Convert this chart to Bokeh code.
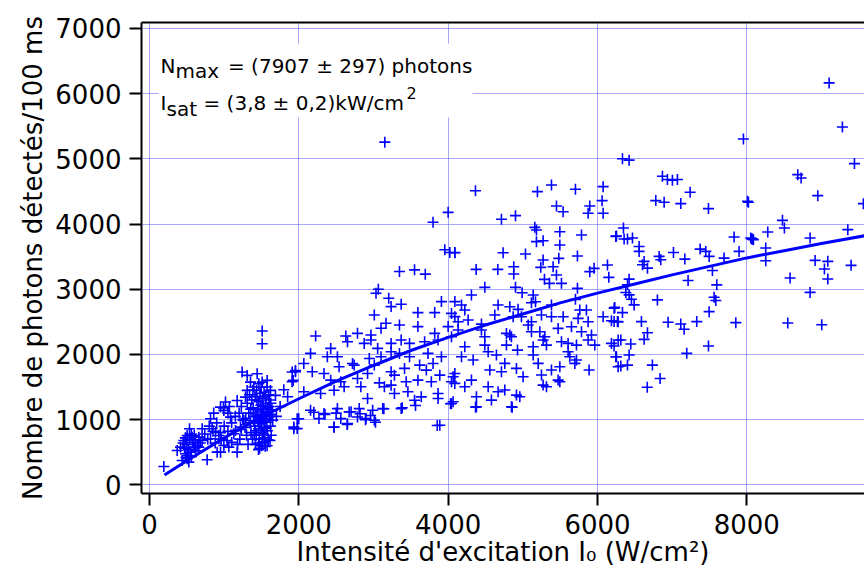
from bokeh.plotting import figure
from bokeh.models import Range1d, FixedTicker, LinearAxis, Label, BoxAnnotation
from bokeh.embed import file_html
from bokeh.resources import INLINE

FONT = "DejaVu Sans"
BLUE = "#0000ff"

# ---------------- data ----------------
x_ticks = [0, 2000, 4000, 6000, 8000]
y_ticks = [0, 1000, 2000, 3000, 4000, 5000, 6000, 7000]

x_title = "Intensité d'excitation I\u2080 (W/cm\u00b2)"
y_title = "Nombre de photons détectés/100 ms"
fit_line1 = "= (7907 ± 297) photons"
fit_line2 = "= (3,8 ± 0,2)kW/cm"

# saturation fit curve
fit_I = [200, 500, 1000, 1500, 2000, 2500, 3000, 3500, 4000, 4500, 5000,
         5500, 6000, 6500, 7000, 7500, 8000, 8500, 9000, 9580]
fit_N = [150, 370, 720, 1040, 1320, 1590, 1830, 2060, 2260, 2450, 2620,
         2790, 2940, 3080, 3220, 3350, 3480, 3590, 3700, 3820]

# measured points (intensity W/cm2, photons / 100 ms), grouped by intensity
pts_0_1000 = [
    (192, 281), (536, 859), (460, 680), (504, 757), (571, 731), (616, 690), (661, 731),
    (705, 680), (594, 578), (549, 501), (482, 476), (504, 399), (437, 373), (527, 348),
    (371, 527), (415, 578), (661, 578), (705, 859), (817, 1013), (839, 859), (884, 808),
    (929, 757), (817, 706), (906, 501), (951, 501), (772, 384), (450, 640), (470, 560),
    (480, 720), (500, 620), (520, 540), (540, 690), (560, 430), (580, 650), (600, 760),
    (620, 520), (640, 600), (560, 780), (510, 450), (490, 420), (600, 570), (680, 640),
    (800, 900), (860, 1100), (900, 950), (950, 800), (780, 700), (740, 780), (850, 820),
    (960, 700), (880, 640), (996, 604), (951, 1192), (996, 1141), (990, 1180),
]
pts_1000_2000 = [
    (1040, 680), (1062, 578), (1129, 783), (1174, 501), (1174, 1294), (1018, 1269),
    (1085, 1038), (1152, 834), (1219, 885), (1263, 987), (1286, 1345), (1308, 1448),
    (1241, 1729), (1308, 1678), (1442, 1703), (1353, 1575), (1397, 1499), (1464, 1550),
    (1509, 1575), (1576, 1601), (1620, 1448), (1687, 1371), (1799, 1458), (1911, 1729),
    (1955, 1754), (1924, 1601), (1509, 2358), (1509, 2164), (1933, 885), (1999, 1013),
    (1000, 900), (1050, 1100), (1100, 950), (1150, 1050), (1200, 1100), (1230, 850),
    (1210, 700), (1180, 620), (1100, 650), (1050, 820), (1070, 1200), (1230, 1200),
    (1250, 1000), (1750, 1200), (1850, 1350), (1700, 1050),
    (1955, 1733), (1910, 1580), (1933, 859), (1978, 1012), (1978, 862),
]
pts_cluster_1500 = [
    (1310, 1250), (1330, 1100), (1350, 950), (1360, 800), (1380, 700), (1390, 1180),
    (1400, 1050), (1410, 900), (1420, 620), (1430, 760), (1440, 1300), (1450, 1150),
    (1455, 980), (1460, 860), (1470, 700), (1475, 560), (1480, 1400), (1490, 1220),
    (1500, 1080), (1505, 940), (1510, 800), (1515, 650), (1520, 1330), (1525, 1160),
    (1530, 1010), (1540, 880), (1545, 720), (1550, 590), (1560, 1250), (1565, 1100),
    (1570, 960), (1580, 830), (1590, 690), (1600, 1200), (1610, 1050), (1620, 900),
    (1630, 760), (1640, 1150), (1650, 990), (1290, 1020), (1280, 880), (1300, 760),
    (1320, 620), (1340, 1380), (1370, 1300), (1385, 1450), (1415, 1350), (1435, 1450),
    (1465, 1280), (1495, 1500), (1535, 1420), (1555, 1360), (1575, 1500), (1595, 1380),
    (1605, 1300), (1625, 1250), (1445, 1040), (1485, 1120), (1515, 1200), (1545, 1060),
    (1405, 760), (1465, 640), (1495, 860), (1525, 780), (1575, 600), (1615, 680),
    (1355, 1160), (1395, 980), (1425, 1070), (1535, 970), (1565, 870), (1585, 1180),
    (1630, 1080), (1460, 540), (1500, 600), (1540, 660), (1420, 830), (1480, 950),
    (1520, 1060), (1560, 1020),
]
pts_2000_4000 = [
    (4000, 4179), (3798, 4026), (3955, 3605), (4022, 3564), (4090, 3564), (3348, 3272),
    (3550, 3297), (3694, 3231), (3065, 3000), (3034, 2938), (3204, 2862), (3236, 2733),
    (3371, 2769), (3011, 2605), (3595, 2641), (3820, 2641), (3910, 2810), (4090, 2810),
    (2225, 2282), (2629, 2282), (2786, 2323), (2966, 2297), (3168, 2477), (3101, 2400),
    (3348, 2451), (3595, 2426), (3820, 2323), (4000, 2426), (4090, 2579), (2652, 2195),
    (2876, 2169), (2966, 2221), (3056, 2092), (3236, 2169), (3371, 2221), (3483, 2169),
    (3685, 2195), (3865, 2221), (2427, 2092), (2157, 2015), (2382, 1964), (2517, 1964),
    (2719, 1861), (2944, 1938), (3101, 1964), (3236, 2041), (3348, 2015), (3483, 1964),
    (3730, 2015), (3910, 1964), (2067, 1861), (2180, 1733), (2337, 1708), (2539, 1810),
    (2741, 1836), (3011, 1836), (3236, 1733), (3281, 1682), (3416, 1785), (3618, 1836),
    (3708, 1759), (3798, 1861), (3888, 1682), (4090, 1708), (2427, 1605), (2562, 1580),
    (2786, 1631), (2921, 1708), (3079, 1564), (3236, 1528), (3438, 1580), (3595, 1605),
    (3775, 1580), (4045, 1580), (2067, 1426), (2292, 1400), (2472, 1451), (2607, 1503),
    (2831, 1503), (2921, 1323), (3146, 1503), (3281, 1400), (3461, 1426), (3550, 1297),
    (3640, 1349), (3865, 1400), (3865, 1323), (4045, 1246), (2157, 1144), (2337, 1092),
    (2517, 1169), (2674, 1118), (2809, 1169), (2989, 1144), (3124, 1169), (3371, 1169),
    (2472, 887), (2652, 938), (3011, 990), (3888, 913), (2270, 1015), (2562, 1015),
    (2786, 1041), (2899, 1015), (3854, 909), (2469, 883), (2648, 925), (3027, 960),
    (2893, 997), (4032, 1242), (3385, 1181), (3563, 1216), (3139, 1166), (2201, 1113),
    (2350, 1080), (2500, 1100), (2700, 1120), (2820, 1090), (2960, 1063), (3152, 5255),
]
pts_4000_6300 = [
    (4366, 4511), (4714, 4072), (4902, 4128), (5196, 4496), (5384, 4598), (5705, 4532),
    (5451, 4276), (5540, 4189), (6076, 4573), (6062, 4358), (5897, 4276), (5875, 4164),
    (6076, 4164), (5161, 3949), (5183, 3908), (5496, 3882), (5786, 3831), (5183, 3729),
    (5272, 3744), (5496, 3678), (6255, 3816), (4089, 3560), (4736, 3560), (5036, 3540),
    (5272, 3448), (5482, 3473), (5732, 3509), (4375, 3304), (4665, 3304), (4879, 3345),
    (4879, 3233), (5241, 3335), (5406, 3345), (5451, 3217), (5290, 3151), (5357, 3090),
    (5518, 3090), (5897, 3269), (5955, 3320), (6134, 3371), (6152, 3182), (4491, 3028),
    (4902, 3028), (4991, 2946), (4312, 2911), (5139, 2911), (5170, 2808), (5732, 3013),
    (5705, 2844), (4179, 2757), (4223, 2680), (4669, 2757), (4826, 2731), (4937, 2691),
    (5116, 2793), (5384, 2757), (5763, 2680), (5852, 2680), (6232, 2721), (4045, 2629),
    (4134, 2501), (4268, 2527), (4446, 2465), (4625, 2604), (4871, 2578), (4982, 2578),
    (5116, 2501), (5250, 2604), (5384, 2578), (5541, 2578), (5741, 2552), (5875, 2501),
    (6076, 2578), (6187, 2517), (6277, 2501), (4446, 2374), (4826, 2297), (5072, 2450),
    (5228, 2348), (5473, 2399), (5652, 2425), (5786, 2348), (5920, 2297), (4134, 2374),
    (4045, 2271), (4491, 2271), (4781, 2322), (4848, 2271), (5295, 2271), (5116, 2348),
    (5607, 2169), (5719, 2143), (5875, 2220), (5964, 2143), (6187, 2169), (6277, 2220),
    (4223, 2118), (4491, 2143), (4781, 2143), (4929, 2066), (5139, 2118), (5272, 2220),
    (5317, 2143), (5518, 2194), (5607, 2041), (5630, 1964), (4179, 1964), (4335, 1913),
    (4536, 2041), (4647, 1990), (4759, 1862), (4558, 1760), (4714, 1734), (4915, 1785),
    (5004, 1657), (5139, 1990), (5206, 1862), (5250, 1683), (5384, 1760), (5496, 1811),
    (5473, 1606), (5697, 1862), (5719, 1913), (5888, 1760), (6254, 1964), (6277, 1811),
    (4067, 1657), (4223, 1504), (4312, 1606), (4379, 1350), (4536, 1504), (4669, 1427),
    (4759, 1453), (4915, 1376), (4960, 1350), (4848, 1197), (4379, 1197), (4580, 1299),
    (5272, 1529), (5317, 1504), (5496, 1580), (4067, 1274), (4089, 1555), (4367, 1190),
    (4858, 1190),
]
pts_6000_8000 = [
    (6335, 5000), (6424, 4979), (6870, 4733), (6937, 4682), (7004, 4672), (7071, 4682),
    (7241, 4487), (6781, 4359), (6893, 4333), (7116, 4313), (7487, 4236), (8009, 4349),
    (6348, 3938), (6246, 3810), (6357, 3769), (6402, 3769), (6469, 3785), (6558, 3656),
    (6558, 3580), (6625, 3426), (6603, 3374), (6670, 3323), (6826, 3503), (6848, 3451),
    (7018, 3564), (7170, 3462), (7375, 3615), (7451, 3580), (7496, 3503), (7696, 3477),
    (7540, 3287), (7830, 3800), (7897, 3580), (8053, 3785), (8075, 3769), (7214, 3133),
    (7598, 3067), (6424, 3154), (6402, 3067), (6380, 2949), (6424, 2913), (6455, 2846),
    (6491, 2759), (6803, 2836), (7562, 2877), (7585, 2826), (7496, 2656), (6223, 2708),
    (6335, 2641), (6223, 2503), (6268, 2503), (6589, 2503), (6670, 2333), (6625, 2231),
    (6946, 2492), (7116, 2467), (7161, 2385), (7330, 2503), (7853, 2487), (6313, 2221),
    (6446, 2159), (6223, 2128), (6424, 1990), (6246, 1964), (6313, 1821), (6402, 1836),
    (6736, 1836), (7196, 2016), (7487, 2128), (6839, 1631), (6667, 1497),
]
pts_8000_up = [
    (9103, 6164), (9281, 5488), (7955, 5304), (9442, 4926), (8683, 4757), (8728, 4706),
    (8951, 4435), (8022, 4333), (9562, 4312), (8478, 4056), (8504, 3939), (8067, 3770),
    (8089, 3760), (8281, 3877), (9353, 3913), (8848, 3785), (8254, 3632), (8254, 3437),
    (8915, 3442), (9085, 3427), (9040, 3310), (9085, 3156), (9397, 3366), (8580, 3171),
    (8848, 2951), (8549, 2481), (9004, 2455),
]

groups = [pts_0_1000, pts_1000_2000, pts_cluster_1500, pts_2000_4000,
          pts_4000_6300, pts_6000_8000, pts_8000_up]
pts_I = [pt[0] for g in groups for pt in g]
pts_N = [pt[1] for g in groups for pt in g]

# ---------------- layout ----------------
W, H = 864, 574
X0_PX, X_SCALE = 149.0, 0.07466     # page px of x=0, px per W/cm2
Y0_PX, Y_SCALE = 484.3, 0.0652      # page px of y=0, px per photon
FRAME_L, FRAME_T, FRAME_B = 141, 22, 493


def px_x(px):
    return (px - X0_PX) / X_SCALE


def px_y(py):
    return (Y0_PX - py) / Y_SCALE


p = figure(width=W, height=H, output_backend="svg", toolbar_location=None,
           x_range=Range1d(px_x(FRAME_L), px_x(W)),
           y_range=Range1d(px_y(FRAME_B), px_y(FRAME_T)),
           min_border_left=FRAME_L, min_border_right=0, min_border_top=FRAME_T,
           min_border_bottom=H - FRAME_B)
p.outline_line_color = None
p.background_fill_color = "white"
p.border_fill_color = "white"

for g in (p.xgrid, p.ygrid):
    g.grid_line_color = "#4f4fff"
    g.grid_line_dash = "1 1"
    g.grid_line_width = 1
p.xgrid.ticker = FixedTicker(ticks=x_ticks)
p.ygrid.ticker = FixedTicker(ticks=y_ticks)

for ax, ticks in ((p.xaxis[0], x_ticks), (p.yaxis[0], y_ticks)):
    ax.ticker = FixedTicker(ticks=ticks)
    ax.axis_line_width = 2
    ax.axis_line_color = "black"
    ax.major_tick_in = 0
    ax.major_tick_out = 12
    ax.major_tick_line_width = 2
    ax.minor_tick_line_color = None
    ax.major_label_text_font = FONT
    ax.major_label_text_font_size = "26px"
    ax.major_label_text_color = "black"
    ax.axis_label_text_font = FONT
    ax.axis_label_text_font_size = "26px"
    ax.axis_label_text_font_style = "normal"
    ax.axis_label_text_color = "black"

p.xaxis[0].major_label_standoff = 8
p.xaxis[0].axis_label = x_title
p.xaxis[0].axis_label_standoff = 0
p.yaxis[0].major_label_standoff = 8
p.yaxis[0].axis_label = y_title
p.yaxis[0].axis_label_standoff = 4

top = LinearAxis(ticker=FixedTicker(ticks=[]), axis_line_width=2, axis_line_color="black",
                 major_tick_out=0, major_tick_in=0, minor_tick_out=0,
                 major_label_text_font_size="0px")
p.add_layout(top, "above")

# data
p.line(fit_I, fit_N, line_color=BLUE, line_width=3)
p.scatter(pts_I, pts_N, marker="cross", size=11, line_color=BLUE, line_width=1.6)

# white text box of the fit results
p.add_layout(BoxAnnotation(left=px_x(158), right=px_x(472), top=px_y(43), bottom=px_y(117),
                           fill_color="white", fill_alpha=1.0, line_color=None))


def put(text, px, py, size):
    p.add_layout(Label(x=px_x(px), y=px_y(py), text=text, text_font=FONT,
                       text_font_size=f"{size}px", text_color="black",
                       text_align="left", text_baseline="alphabetic"))


# fit results
put("N", 160, 65, 20)
put("max", 175, 70, 20)
put(fit_line1, 227.5, 65, 20)
put("I", 160, 102, 20)
put("sat", 166, 108, 20)
put(fit_line2, 203, 102, 20)
put("2", 406, 92, 16)

open("out.html", "w").write(file_html(p, INLINE))
